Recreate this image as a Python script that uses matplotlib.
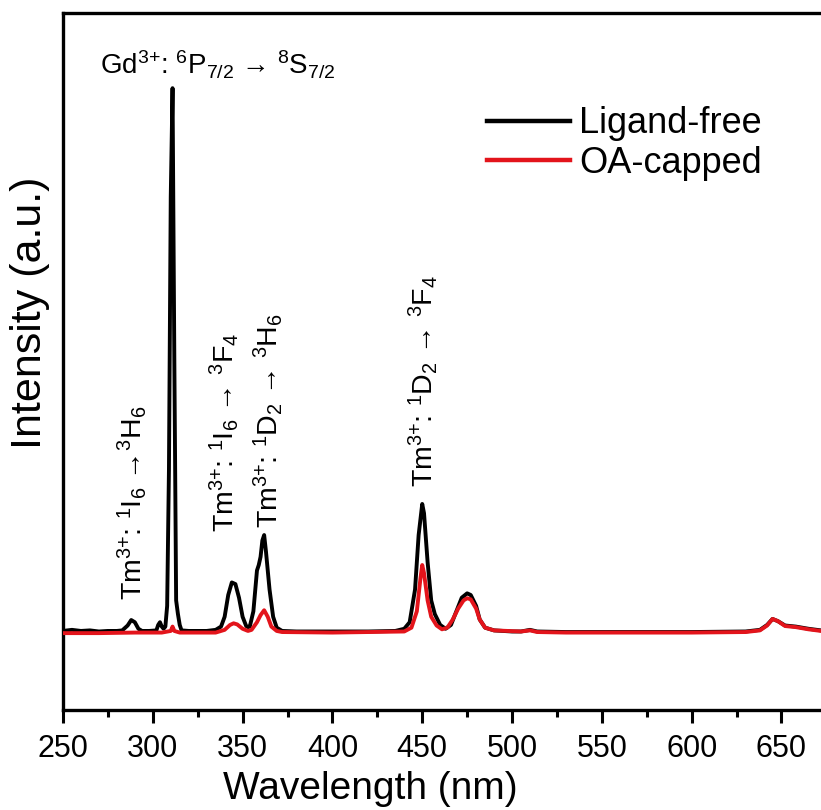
import matplotlib
matplotlib.use("Agg")
import matplotlib.pyplot as plt
from matplotlib.ticker import MultipleLocator, NullLocator

plt.rcParams['font.family'] = ['Liberation Sans', 'DejaVu Sans']
plt.rcParams['mathtext.fontset'] = 'custom'
plt.rcParams['mathtext.rm'] = 'Liberation Sans'
plt.rcParams['mathtext.it'] = 'Liberation Sans:italic'
plt.rcParams['mathtext.bf'] = 'Liberation Sans:bold'

# ligand-free spectrum (wavelength nm, intensity a.u.)
wl_free = [250, 255, 260, 265, 270, 275, 280, 283, 286, 288, 290, 292, 294, 298,
           302, 303, 304, 305, 306, 307, 308, 309, 310, 311, 312, 313, 314, 315,
           316, 320, 330, 335, 338, 340, 342, 344, 346, 348, 350, 352, 353, 354,
           356, 358, 359, 360, 361, 362, 363, 365, 367, 369, 372, 380, 400, 420,
           435, 440, 443, 446, 448, 450, 451, 453, 455, 457, 460, 463, 466, 469,
           472, 475, 477, 480, 482, 485, 490, 500, 505, 510, 514, 530, 560, 600,
           630, 638, 642, 645, 648, 652, 658, 665, 672]
int_free = [0.004, 0.006, 0.004, 0.005, 0.003, 0.004, 0.004, 0.005, 0.014, 0.024,
            0.020, 0.008, 0.004, 0.004, 0.005, 0.015, 0.020, 0.012, 0.008, 0.012,
            0.050, 0.300, 0.800, 1.000, 0.500, 0.060, 0.035, 0.015, 0.005, 0.004,
            0.004, 0.006, 0.012, 0.030, 0.070, 0.093, 0.090, 0.065, 0.030, 0.013,
            0.011, 0.012, 0.040, 0.115, 0.125, 0.140, 0.170, 0.180, 0.150, 0.080,
            0.030, 0.010, 0.004, 0.003, 0.003, 0.003, 0.004, 0.008, 0.020, 0.080,
            0.180, 0.237, 0.220, 0.130, 0.060, 0.035, 0.015, 0.008, 0.015, 0.040,
            0.065, 0.073, 0.070, 0.050, 0.025, 0.010, 0.005, 0.003, 0.003, 0.006,
            0.003, 0.002, 0.002, 0.002, 0.003, 0.006, 0.015, 0.026, 0.022, 0.014,
            0.012, 0.008, 0.005]

# OA-capped spectrum
wl_oa = [250, 270, 290, 305, 310, 311, 312, 315, 335, 340, 343, 345, 347, 350,
         353, 355, 358, 360, 362, 364, 366, 369, 372, 400, 440, 444, 447, 449,
         450, 451, 453, 455, 458, 461, 464, 467, 470, 473, 475, 477, 480, 482,
         485, 490, 505, 510, 514, 530, 560, 600, 630, 638, 642, 645, 648, 652,
         658, 665, 672]
int_oa = [0.000, 0.000, 0.001, 0.001, 0.004, 0.012, 0.004, 0.001, 0.001, 0.006,
          0.015, 0.018, 0.016, 0.008, 0.004, 0.006, 0.020, 0.033, 0.042, 0.030,
          0.012, 0.004, 0.002, 0.001, 0.003, 0.010, 0.040, 0.100, 0.125, 0.110,
          0.060, 0.030, 0.014, 0.007, 0.010, 0.025, 0.045, 0.060, 0.064, 0.062,
          0.045, 0.025, 0.010, 0.005, 0.003, 0.005, 0.002, 0.001, 0.001, 0.001,
          0.002, 0.005, 0.014, 0.026, 0.022, 0.013, 0.011, 0.007, 0.004]

series_names = ['Ligand-free', 'OA-capped']

fig = plt.figure(figsize=(8.21, 8.10), dpi=100)
ax = fig.add_axes([0.0767, 0.1235, 0.9233, 0.8605])

ax.plot(wl_free, int_free, color='black', lw=2.8, label=series_names[0], zorder=2)
ax.plot(wl_oa, int_oa, color='#e3141b', lw=2.8, label=series_names[1], zorder=3)

ax.set_xlim(250, 672)
ax.set_ylim(-0.141, 1.138)

ax.xaxis.set_major_locator(MultipleLocator(50))
ax.xaxis.set_minor_locator(MultipleLocator(25))
ax.yaxis.set_major_locator(NullLocator())
ax.tick_params(axis='x', which='major', direction='out', length=9, width=2.2,
               labelsize=22, pad=8)
ax.tick_params(axis='x', which='minor', direction='out', length=5, width=2.2)
ax.spines['right'].set_visible(False)
for s in ['left', 'top', 'bottom']:
    ax.spines[s].set_linewidth(2.4)

ax.set_xlabel('Wavelength (nm)', fontsize=28)
ax.xaxis.set_label_coords(0.406, -0.087)
ax.set_ylabel('Intensity (a.u.)', fontsize=31)
ax.yaxis.set_label_coords(-0.017, 0.57)

leg = ax.legend(loc='upper left', bbox_to_anchor=(0.559, 0.866), frameon=False,
                fontsize=26, handlelength=2.3, handletextpad=0.25,
                labelspacing=0.12, borderpad=0, borderaxespad=0)
for line in leg.get_lines():
    line.set_linewidth(3.2)

sup3 = '$^{3{+}}$'
ax.text(336.5, 1.072, 'Gd' + sup3 + ': $^{6}$P$_{7/2}$ → $^{8}$S$_{7/2}$',
        fontsize=20, ha='center', va='top')

ax.text(288.5, 0.06, 'Tm' + sup3 + ': $^{1}$I$_{6}$ →$^{3}$H$_{6}$',
        fontsize=20.5, rotation=90, ha='center', va='bottom')
ax.text(339.5, 0.185, 'Tm' + sup3 + ': $^{1}$I$_{6}$ → $^{3}$F$_{4}$',
        fontsize=20.5, rotation=90, ha='center', va='bottom')
ax.text(364, 0.193, 'Tm' + sup3 + ': $^{1}$D$_{2}$ → $^{3}$H$_{6}$',
        fontsize=20.5, rotation=90, ha='center', va='bottom')
ax.text(450.5, 0.268, 'Tm' + sup3 + ': $^{1}$D$_{2}$ → $^{3}$F$_{4}$',
        fontsize=20.5, rotation=90, ha='center', va='bottom')

fig.savefig('out.png', dpi=100)
